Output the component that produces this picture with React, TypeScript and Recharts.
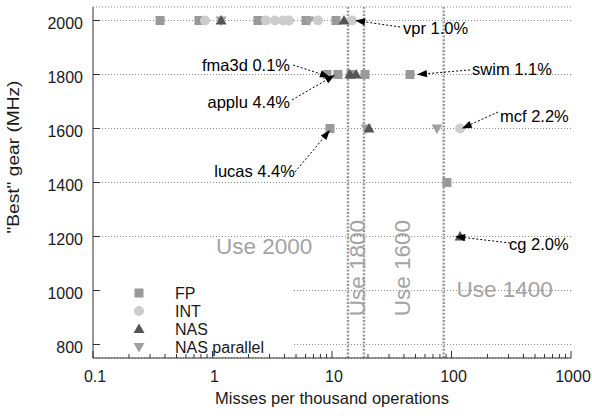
import React from 'react';
import { ScatterChart, Scatter, XAxis, YAxis, CartesianGrid, ReferenceLine, ReferenceDot, Legend } from 'recharts';

const FONT = '"Liberation Sans", Arial, Helvetica, sans-serif';

// ---- axes ----
const X_MAJOR = [0.1, 1, 10, 100, 1000];
const X_MAJOR_LABELS = ['0.1', '1', '10', '100', '1000'];
const X_MINOR_STEPS = [2, 3, 4, 5, 6, 7, 8, 9];
const Y_TICKS = [800, 1000, 1200, 1400, 1600, 1800, 2000];
const X_DOMAIN = [0.1, 1000];
const Y_DOMAIN = [750, 2050];

// ---- series (misses per thousand ops, best gear MHz) ----
const FP_MISSES = [0.364, 0.77, 2.4, 6.06, 10.8, 9.08, 11.2, 14.4, 18.9, 45, 9.62, 91.6];
const FP_GEAR = [2000, 2000, 2000, 2000, 2000, 1800, 1800, 1800, 1800, 1800, 1600, 1400];
const INT_MISSES = [0.866, 2.8, 3.33, 3.89, 4.37, 7.64, 14.7, 118];
const INT_GEAR = [2000, 2000, 2000, 2000, 2000, 2000, 2000, 1600];
const NAS_MISSES = [1.18, 12.6, 14.1, 15.9, 20.4, 118];
const NAS_GEAR = [2000, 2000, 1800, 1800, 1600, 1200];
const NASP_MISSES = [1.18, 6.42, 19.3, 75.6];
const NASP_GEAR = [2000, 2000, 1600, 1600];

const SERIES_NAMES = ['FP', 'INT', 'NAS', 'NAS parallel'];

// ---- thresholds & region labels ----
const THRESHOLDS = [13.6, 18.5, 86];
const REGION_LABELS = ['Use 2000', 'Use 1800', 'Use 1600', 'Use 1400'];
const REGION_X = [1.07, 18.9, 45, 110];
const REGION_Y = [1135, 1083, 1083, 976];
const REGION_ANGLE = [0, -90, -90, 0];

// ---- annotations ----
const NOTE_LABELS = ['vpr 1.0%', 'fma3d 0.1%', 'applu 4.4%', 'swim 1.1%', 'mcf 2.2%', 'lucas 4.4%', 'cg 2.0%'];
const NOTE_FROM_X = [37.1, 4.72, 4.63, 143, 245, 4.9, 309];
const NOTE_FROM_Y = [1976, 1835, 1706, 1817, 1661, 1439, 1176];
const NOTE_TO_X = [15.6, 9.62, 10.6, 51.4, 122, 9.62, 107];
const NOTE_TO_Y = [2000, 1791, 1798, 1800, 1600, 1594, 1200];
const NOTE_ANCHOR = ['start', 'end', 'end', 'start', 'start', 'end', 'start'];
const NOTE_DX = [3, -3, -2, 2, 2, 0, -1];
const NOTE_DY = [7, 6, 8, 5, 10, 5, 7];

const COLORS = { FP: '#999999', INT: '#cccccc', NAS: '#555555', NASP: '#a0a0a0' };
const FRAME = '#333333';
const TEXT = '#1a1a1a';

const zip = (xs: number[], ys: number[]) => xs.map((x, i) => ({ x, y: ys[i] }));
const fpData = zip(FP_MISSES, FP_GEAR);
const intData = zip(INT_MISSES, INT_GEAR);
const nasData = zip(NAS_MISSES, NAS_GEAR);
const naspData = zip(NASP_MISSES, NASP_GEAR);

const X_TICKS: number[] = [];
X_MAJOR.forEach((d, i) => {
  X_TICKS.push(d);
  if (i < X_MAJOR.length - 1) X_MINOR_STEPS.forEach((k) => X_TICKS.push(d * k));
});

const majorIndex = (v: number) => X_MAJOR.findIndex((m) => Math.abs(Math.log10(m) - Math.log10(v)) < 1e-6);

function drawMarker(kind: string, cx: number, cy: number, color: string, key?: any) {
  if (kind === 'square') return <rect key={key} x={cx - 4.5} y={cy - 4.5} width={9} height={9} fill={color} />;
  if (kind === 'circle') return <circle key={key} cx={cx} cy={cy} r={5} fill={color} />;
  if (kind === 'up')
    return <polygon key={key} points={`${cx},${cy - 5.5} ${cx + 5.5},${cy + 4} ${cx - 5.5},${cy + 4}`} fill={color} />;
  return <polygon key={key} points={`${cx},${cy + 5.5} ${cx + 5.5},${cy - 4} ${cx - 5.5},${cy - 4}`} fill={color} />;
}

const shapeOf = (kind: string, color: string) => (props: any) => {
  const { cx, cy } = props;
  if (cx == null || cy == null) return <g />;
  return drawMarker(kind, cx, cy, color);
};

const BottomTick = (props: any) => {
  const { x, y, payload } = props;
  const mi = majorIndex(payload.value);
  const major = mi >= 0;
  return (
    <g>
      <line x1={x} x2={x} y1={y} y2={y - (major ? 7 : 4)} stroke={FRAME} />
      {major && (
        <text x={x + 2} y={y + 24} textAnchor="middle" fontSize={16} fontFamily={FONT} fill={TEXT}>
          {X_MAJOR_LABELS[mi]}
        </text>
      )}
    </g>
  );
};

const TopTick = (props: any) => {
  const { x, y, payload } = props;
  const major = majorIndex(payload.value) >= 0;
  return <line x1={x} x2={x} y1={y} y2={y + (major ? 7 : 4)} stroke={FRAME} />;
};

const LeftTick = (props: any) => {
  const { x, y, payload } = props;
  return (
    <g>
      <line x1={x} x2={x + 7} y1={y} y2={y} stroke={FRAME} />
      <text x={x - 10} y={y + 8} textAnchor="end" fontSize={16} fontFamily={FONT} fill={TEXT}>
        {payload.value}
      </text>
    </g>
  );
};

const RightTick = (props: any) => {
  const { x, y } = props;
  return <line x1={x} x2={x - 7} y1={y} y2={y} stroke={FRAME} />;
};

const xTitle = (props: any) => {
  const vb = props.viewBox || { x: 93, y: 358, width: 478, height: 58 };
  return (
    <text x={vb.x + vb.width / 2} y={vb.y + 46} textAnchor="middle" fontSize={16.5} fontFamily={FONT} fill={TEXT}>
      Misses per thousand operations
    </text>
  );
};

const yTitle = (props: any) => {
  const vb = props.viewBox || { x: 0, y: 7, width: 93, height: 351 };
  const x = vb.x + 19;
  const y = vb.y + 150;
  return (
    <text x={x} y={y} transform={`rotate(-90 ${x} ${y})`} textAnchor="middle" fontSize={16} fontFamily={FONT} fill={TEXT}
      textLength={153} lengthAdjust="spacingAndGlyphs">
      "Best" gear (MHz)
    </text>
  );
};

const arrowShape = (i: number) => (props: any) => {
  const { x1, y1, x2, y2 } = props;
  if ([x1, y1, x2, y2].some((v) => v == null || isNaN(v))) return <g />;
  const dx = x2 - x1;
  const dy = y2 - y1;
  const len = Math.hypot(dx, dy) || 1;
  const ux = dx / len;
  const uy = dy / len;
  const L = 10;
  const W = 3.6;
  const bx = x2 - ux * L;
  const by = y2 - uy * L;
  return (
    <g>
      <line x1={x1} y1={y1} x2={bx} y2={by} stroke="#000" strokeWidth={1} strokeDasharray="2 2" />
      <polygon points={`${x2},${y2} ${bx - uy * W},${by + ux * W} ${bx + uy * W},${by - ux * W}`} fill="#000" />
      <text x={x1 + NOTE_DX[i]} y={y1 + NOTE_DY[i]} textAnchor={NOTE_ANCHOR[i] as any} fontSize={16.5} fontFamily={FONT} fill="#000">
        {NOTE_LABELS[i]}
      </text>
    </g>
  );
};

const regionShape = (i: number) => (props: any) => {
  const { cx, cy } = props;
  if (cx == null || cy == null) return <g />;
  const rot = REGION_ANGLE[i] !== 0;
  return (
    <text x={cx} y={cy} textAnchor={rot ? 'middle' : 'start'} transform={rot ? `rotate(${REGION_ANGLE[i]} ${cx} ${cy})` : undefined}
      fontSize={22.5} fontFamily={FONT} fill="#a3a3a3">
      {REGION_LABELS[i]}
    </text>
  );
};

const LEGEND_KINDS = ['square', 'circle', 'up', 'down'];
const LEGEND_COLORS = [COLORS.FP, COLORS.INT, COLORS.NAS, COLORS.NASP];

const LegendBox = () => (
  <svg width={191} height={69} style={{ display: 'block', overflow: 'visible' }}>
    {SERIES_NAMES.map((name, i) => (
      <g key={name}>
        {drawMarker(LEGEND_KINDS[i], 38, 12 + i * 18, LEGEND_COLORS[i])}
        <text x={74} y={12 + i * 18 + 6} fontSize={16} fontFamily={FONT} fill={TEXT}>
          {name}
        </text>
      </g>
    ))}
  </svg>
);

export default function App() {
  return (
    <div style={{ position: 'absolute', left: 0, top: 0, background: '#fff' }}>
      <ScatterChart width={592} height={416} margin={{ top: 7, right: 21, bottom: 0, left: 0 }}>
        <CartesianGrid vertical={false} stroke="#8a8a8a" strokeDasharray="1 2" />
        <XAxis
          xAxisId={0}
          dataKey="x"
          type="number"
          scale="log"
          domain={X_DOMAIN}
          ticks={X_TICKS}
          interval={0}
          height={58}
          tickSize={0}
          tickMargin={0}
          tickLine={false}
          axisLine={{ stroke: FRAME }}
          tick={BottomTick}
          label={xTitle}
        />
        <XAxis
          xAxisId="top"
          orientation="top"
          dataKey="x"
          type="number"
          scale="log"
          domain={X_DOMAIN}
          ticks={X_TICKS}
          interval={0}
          height={0}
          tickSize={0}
          tickMargin={0}
          tickLine={false}
          axisLine={{ stroke: FRAME }}
          tick={TopTick}
        />
        <YAxis
          yAxisId={0}
          dataKey="y"
          type="number"
          domain={Y_DOMAIN}
          ticks={Y_TICKS}
          interval={0}
          width={93}
          tickSize={0}
          tickMargin={0}
          tickLine={false}
          axisLine={{ stroke: FRAME }}
          tick={LeftTick}
          label={yTitle}
        />
        <YAxis
          yAxisId="right"
          orientation="right"
          dataKey="y"
          type="number"
          domain={Y_DOMAIN}
          ticks={Y_TICKS}
          interval={0}
          width={0}
          tickSize={0}
          tickMargin={0}
          tickLine={false}
          axisLine={{ stroke: FRAME }}
          tick={RightTick}
        />
        {THRESHOLDS.map((t) => (
          <ReferenceLine key={'t' + t} x={t} stroke="#999" strokeWidth={2.5} strokeDasharray="2 1.6" />
        ))}
        {REGION_LABELS.map((l, i) => (
          <ReferenceDot key={l} x={REGION_X[i]} y={REGION_Y[i]} r={0} shape={regionShape(i)} />
        ))}
        <Scatter name="FP" data={fpData} isAnimationActive={false} shape={shapeOf('square', COLORS.FP)} />
        <Scatter name="INT" data={intData} isAnimationActive={false} shape={shapeOf('circle', COLORS.INT)} />
        <Scatter name="NAS parallel" data={naspData} isAnimationActive={false} shape={shapeOf('down', COLORS.NASP)} />
        <Scatter name="NAS" data={nasData} isAnimationActive={false} shape={shapeOf('up', COLORS.NAS)} />
        {NOTE_LABELS.map((l, i) => (
          <ReferenceLine
            key={l}
            segment={[
              { x: NOTE_FROM_X[i], y: NOTE_FROM_Y[i] },
              { x: NOTE_TO_X[i], y: NOTE_TO_Y[i] },
            ]}
            zIndex={1500}
            shape={arrowShape(i)}
          />
        ))}
        <Legend
          layout="vertical"
          align="center"
          verticalAlign="middle"
          wrapperStyle={{ left: 101, top: 281, width: 191, height: 69, background: '#fff', margin: 0, padding: 0, overflow: 'visible' }}
          content={LegendBox}
        />
      </ScatterChart>
    </div>
  );
}
